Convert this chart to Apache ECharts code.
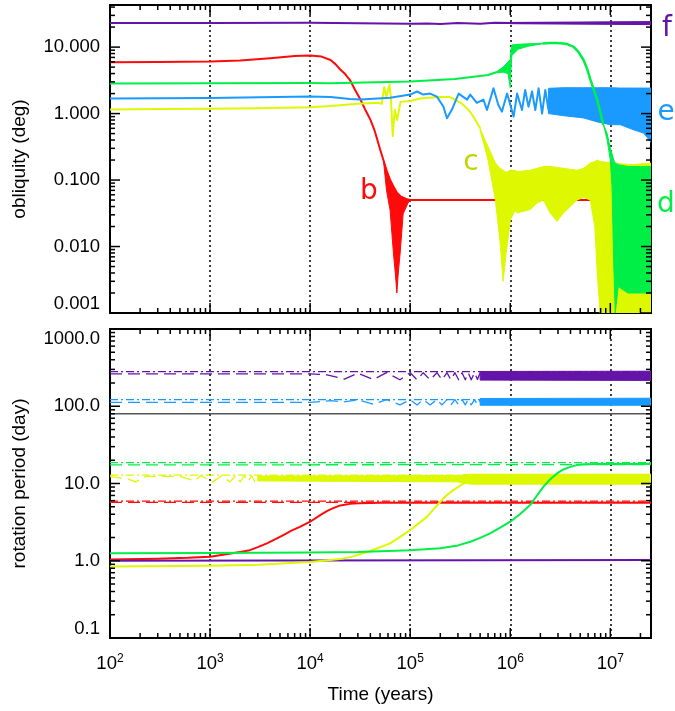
<!DOCTYPE html>
<html>
<head>
<meta charset="utf-8">
<script src="https://cdn.jsdelivr.net/npm/echarts@6/dist/echarts.min.js"></script>
<style>html,body{margin:0;padding:0;background:#fff;}#chart{width:675px;height:711px;}</style>
</head>
<body>
<div id="chart"></div>
<script>
// ---------------- DATA ----------------
const xRange = [100, 2.55e7];
const yRangeTop = [0.001, 43];
const yRangeBottom = [0.1, 1000];

// Top panel: obliquity (deg)  [time, value]
const obliqB = [[100,5.9],[300,5.95],[1000,6.05],[2000,6.3],[4000,6.8],[7000,7.35],[10000,7.5],[13000,7.2],[16000,6.4],[18000,5.5],[20000,4.6],[22500,3.9],[25000,3.2],[28000,2.3],[32000,1.6],[36000,1.1],[40000,0.81],[44000,0.56],[47000,0.40],[50000,0.29],[54000,0.20],[58000,0.14],[63000,0.10],[68000,0.08],[74000,0.064],[80000,0.057],[90000,0.052],[100000,0.05],[1e6,0.05],[2.55e7,0.05]];
// band rows: [time, upper, lower]
const obliqBBand = [[54000,0.2,0.2],[58000,0.14,0.07],[63000,0.10,0.035],[68000,0.08,0.008],[71000,0.072,0.004],[73600,0.064,0.002],[76000,0.06,0.004],[79400,0.057,0.008],[85000,0.055,0.031],[95000,0.051,0.045],[100000,0.05,0.05]];

const obliqC = [[100,1.15],[300,1.17],[1000,1.18],[3000,1.2],[10000,1.25],[16000,1.3],[30000,1.4],[48000,1.45],[52000,1.4],[55000,2.5],[58000,1.8],[62000,2.7],[64000,1.8],[67000,0.46],[70000,1.13],[74000,0.8],[80000,1.5],[100000,1.55],[130000,1.7],[200000,1.77],[250000,1.77],[280000,1.62],[320000,1.45],[355000,1.27],[400000,1.05],[447000,0.81],[500000,0.6]];
const obliqCBand = [[500000,0.6,0.55],[560000,0.40,0.3],[600000,0.32,0.2],[710000,0.18,0.05],[790000,0.15,0.012],[850000,0.14,0.003],[910000,0.13,0.008],[1e6,0.14,0.025],[1.12e6,0.14,0.035],[1.17e6,0.134,0.032],[1.58e6,0.14,0.036],[1.85e6,0.15,0.045],[2.15e6,0.16,0.05],[2.5e6,0.16,0.032],[2.93e6,0.155,0.024],[3.4e6,0.15,0.032],[3.98e6,0.145,0.04],[4.64e6,0.14,0.05],[5.4e6,0.15,0.055],[6.3e6,0.18,0.05],[7e6,0.19,0.02],[7.4e6,0.2,0.004],[7.9e6,0.19,0.001],[1.08e7,0.18,0.001],[1.58e7,0.17,0.001],[2.55e7,0.18,0.001]];

const obliqD = [[100,2.84],[1000,2.85],[10000,2.88],[16000,2.85],[100000,3.05],[280000,3.3],[600000,3.8],[750000,4.25]];
const obliqDBand = [[750000,4.4,4.1],[850000,5.0,4.2],[950000,6.0,4.0],[1e6,6.5,2.45],[1.02e6,9.5,5],[1.04e6,10.8,7.5],[1.2e6,11.0,9.3],[1.5e6,11.2,10.3],[2.1e6,11.4,11.2]];
const obliqDLate = [[2.1e6,11.3],[2.5e6,11.5],[2.9e6,11.5],[3.4e6,11.3],[3.7e6,11.1],[4.3e6,10.1],[4.8e6,8.5],[5.4e6,6.4],[5.9e6,4.6],[6.3e6,3.3],[6.9e6,2.2],[7.4e6,1.6],[8e6,1.0],[8.5e6,0.68]];
const obliqDBandLate = [[8.5e6,0.7,0.7],[9.3e6,0.5,0.4],[1e7,0.3,0.2],[1.04e7,0.25,0.08],[1.08e7,0.2,0.006],[1.12e7,0.18,0.001],[1.2e7,0.17,0.0025],[1.5e7,0.16,0.002],[2e7,0.16,0.002],[2.55e7,0.16,0.002]];

const obliqE = [[100,1.69],[1000,1.72],[10000,1.8],[16000,1.78],[25000,1.66],[32000,1.63],[63000,1.73],[100000,1.93],[117000,2.15],[135000,1.93],[158000,2.0],[185000,1.8],[215000,1.27],[233000,0.85],[260000,1.13],[305000,2.0],[370000,1.62],[398000,1.93],[464000,1.45],[540000,1.62],[585000,1.13],[680000,2.4],[760000,1.35],[825000,1.07],[930000,2.0],[1.08e6,0.9],[1.17e6,2.0],[1.31e6,1.13],[1.41e6,2.27],[1.52e6,1.27],[1.65e6,2.15],[1.78e6,1.13],[1.92e6,2.4],[2.08e6,1.0],[2.24e6,2.27],[2.41e6,1.13]];
const obliqEBand = [[2.41e6,2.4,1.0],[3.4e6,2.45,0.93],[5.4e6,2.45,0.86],[7.4e6,2.45,0.75],[1e7,2.45,0.68],[1.26e7,2.42,0.68],[1.7e7,2.42,0.57],[2.15e7,2.42,0.51],[2.55e7,2.42,0.37]];

const obliqF = [[100,23],[1000,23],[10000,23.2],[30000,22.8],[100000,22.4],[150000,22.7],[200000,22.3],[300000,23.0],[500000,22.5],[700000,23.2],[1e6,23],[2.55e7,23]];
const obliqFBand = [[1e6,23.5,22.5],[2.55e7,24.2,21.8]];

// Bottom panel: rotation period (day)
const rotGray = [[100,80],[2.55e7,80]];
const rotFDashDot = [[100,280],[2.55e7,280]];
const rotFDash = [[100,262],[10000,262],[14000,258],[22000,225],[30000,268],[43000,222],[58000,272],[79000,220],[100000,272],[117000,220],[135000,272],[158000,220],[185000,272],[208000,220],[233000,272],[255000,220],[280000,272],[305000,220],[330000,272],[355000,220],[380000,272],[407000,220],[440000,272],[470000,222],[500000,272]];
const rotFBand = [[500000,282,218],[2.55e7,284,216]];
const rotEDashDot = [[100,122],[2.55e7,122]];
const rotEDash = [[100,112],[10000,112],[16000,118],[22000,114],[30000,121],[43000,106],[58000,122],[79000,104],[100000,122],[117000,104],[135000,122],[158000,104],[185000,122],[208000,104],[233000,122],[255000,104],[280000,122],[305000,104],[330000,122],[355000,104],[380000,122],[407000,104],[440000,122],[470000,104],[500000,122]];
const rotEBand = [[500000,126,103],[2.55e7,127,103]];
const rotDDashDot = [[100,18.6],[2.55e7,18.6]];
const rotDDash = [[100,17.4],[2.55e7,17.6]];
const rotCDashDot = [[100,12.8],[2.55e7,12.8]];
const rotCDash = [[100,12.3],[150,11.5],[180,10.5],[230,12.4],[500,12.4],[700,10.8],[800,12.6],[1070,10.5],[1300,12.6],[1580,10.5],[1800,12.6],[2000,10.5],[2200,12.6],[2400,10.6],[2600,12.6],[2800,10.6],[3000,12.6]];
const rotCBand = [[3000,12.5,10.8],[300000,12.7,10.5],[400000,13.2,9.8],[2.55e7,13.2,9.8]];
const rotBDashDot = [[100,5.9],[2.55e7,5.9]];
const rotBDash = [[100,5.7],[2.55e7,5.7]];
const rotB = [[100,1.04],[300,1.06],[600,1.09],[1000,1.13],[1500,1.22],[2000,1.3],[2500,1.37],[3000,1.5],[3700,1.68],[4500,1.9],[5400,2.15],[6500,2.45],[7900,2.75],[10000,3.2],[12600,3.9],[15000,4.45],[17000,4.8],[20000,5.2],[25000,5.45],[30000,5.55],[40000,5.6],[50000,5.62],[2.55e7,5.62]];
const rotC = [[100,0.84],[1000,0.86],[3000,0.89],[10000,0.96],[20000,1.05],[27000,1.14],[34000,1.25],[45000,1.42],[63000,1.68],[80000,2.05],[100000,2.5],[120000,3.0],[147000,3.7],[170000,4.6],[200000,5.8],[230000,7.0],[270000,8.2],[320000,9.5],[370000,10.5],[430000,11.2],[500000,11.5],[800000,11.6],[2.55e7,11.6]];
const rotD = [[100,1.25],[1000,1.26],[10000,1.28],[30000,1.3],[100000,1.37],[200000,1.45],[300000,1.58],[400000,1.76],[500000,1.98],[630000,2.26],[800000,2.7],[1e6,3.2],[1.25e6,4.0],[1.58e6,5.25],[1.85e6,7.0],[2.15e6,9.1],[2.5e6,11.3],[2.93e6,13.5],[3.4e6,15.2],[3.98e6,16.4],[4.6e6,17.3],[5.4e6,17.8],[8e6,17.9],[2.55e7,17.9]];
const rotF = [[100,1.0],[2.55e7,1.02]];

const planetLabels = [
  {text:'b', x:369, y:192, color:'#ff0a0a'},
  {text:'c', x:471, y:163, color:'#c2d400'},
  {text:'d', x:666, y:205, color:'#00ef46'},
  {text:'e', x:666, y:113, color:'#1a9aff'},
  {text:'f', x:667, y:29, color:'#6414a8'}
];

// ---------------- STYLE ----------------
const RED='#ff0a0a', YEL='#ddf800', GRN='#00ef46', BLU='#1a9aff', PUR='#6414a8';
const FONT='Liberation Sans';
const DASHDOT=[8,3,2,3], LDASH=[12,6];

function logTickVals(lo, hi, major) {
  const out = [];
  for (let e = Math.floor(Math.log10(lo)); e <= Math.ceil(Math.log10(hi)); e++) {
    for (let m = 1; m <= 9; m++) {
      if ((m === 1) !== major) continue;
      const v = m * Math.pow(10, e);
      if (v >= lo * 0.999 && v <= hi * 1.001) out.push(v);
    }
  }
  return out;
}

function band(gi, rows, color, z) {
  return {
    type:'custom', xAxisIndex:gi, yAxisIndex:gi, silent:true, clip:true, z:z||2,
    encode:{x:0,y:[1,2]}, data: rows,
    renderItem(params, api) {
      if (params.dataIndexInside !== 0) return null;
      const n = params.dataInsideLength;
      const up = [], lo = [];
      for (let i = 0; i < n; i++) {
        up.push(api.coord([api.value(0,i), api.value(1,i)]));
        lo.push(api.coord([api.value(0,i), api.value(2,i)]));
      }
      return {type:'polygon', shape:{points: up.concat(lo.reverse())},
              style:{fill:color, stroke:color, lineWidth:1}};
    }
  };
}

function line(gi, data, color, width, type, z) {
  return {
    type:'line', xAxisIndex:gi, yAxisIndex:gi, data, showSymbol:false, symbol:'none',
    silent:true, z:z||2, smooth:false,
    lineStyle:{color, width, type: type || 'solid', join:'round'}
  };
}

const xAxisCommon = {
  type:'log', logBase:10, min:xRange[0], max:xRange[1],
  axisLine:{show:false}, axisTick:{show:false},
  splitLine:{show:true, lineStyle:{color:'#000', type:[2,3], width:1.5}}
};

const option = {
  animation:false,
  backgroundColor:'#fff',
  grid:[
    {left:110, right:24, top:5, height:308, show:true, borderColor:'#000', borderWidth:2},
    {left:110, right:24, top:329, height:309, show:true, borderColor:'#000', borderWidth:2}
  ],
  xAxis:[
    Object.assign({gridIndex:0, axisLabel:{show:false}}, xAxisCommon),
    Object.assign({gridIndex:1,
      name:'Time (years)', nameLocation:'middle', nameGap:47,
      nameTextStyle:{fontFamily:FONT, fontSize:19, color:'#000'},
      axisLabel:{show:true, margin:15, showMaxLabel:false, color:'#000', fontFamily:FONT, fontSize:18.5, lineHeight:22,
        formatter:(v)=> '10{sup|' + Math.round(Math.log10(v)) + '}',
        rich:{sup:{fontFamily:FONT, fontSize:12, lineHeight:12, verticalAlign:'top', color:'#000'}}}
    }, xAxisCommon)
  ],
  yAxis:[
    {gridIndex:0, type:'log', logBase:10, min:yRangeTop[0], max:yRangeTop[1],
      name:'obliquity (deg)', nameLocation:'middle', nameGap:81, nameRotate:90,
      nameTextStyle:{fontFamily:FONT, fontSize:19, color:'#000'},
      axisLine:{show:false}, axisTick:{show:false}, splitLine:{show:false},
      axisLabel:{margin:10, color:'#000', fontFamily:FONT, fontSize:18.5, showMaxLabel:false,
        verticalAlignMinLabel:'bottom',
        formatter:(v)=> Number(v).toFixed(3)}},
    {gridIndex:1, type:'log', logBase:10, min:yRangeBottom[0], max:yRangeBottom[1],
      name:'rotation period (day)', nameLocation:'middle', nameGap:81, nameRotate:90,
      nameTextStyle:{fontFamily:FONT, fontSize:19, color:'#000'},
      axisLine:{show:false}, axisTick:{show:false}, splitLine:{show:false},
      axisLabel:{margin:10, color:'#000', fontFamily:FONT, fontSize:18.5,
        verticalAlignMinLabel:'bottom', verticalAlignMaxLabel:'top',
        formatter:(v)=> Number(v).toFixed(1)}}
  ],
  series:[
    // top panel
    band(0, obliqBBand, RED, 2),
    line(0, obliqB, RED, 2, 'solid', 2),
    band(0, obliqCBand, YEL, 3),
    line(0, obliqC, YEL, 2, 'solid', 3),
    line(0, obliqE, BLU, 2, 'solid', 4),
    band(0, obliqEBand, BLU, 4),
    band(0, obliqDBand, GRN, 5),
    line(0, obliqD, GRN, 2, 'solid', 5),
    line(0, obliqDLate, GRN, 2.5, 'solid', 5),
    band(0, obliqDBandLate, GRN, 5),
    band(0, obliqFBand, PUR, 6),
    line(0, obliqF, PUR, 2, 'solid', 6),
    // bottom panel
    line(1, rotGray, '#555', 1.5, 'solid', 2),
    line(1, rotFDashDot, PUR, 1.3, DASHDOT, 2),
    line(1, rotFDash, PUR, 1.3, LDASH, 2),
    band(1, rotFBand, PUR, 2),
    line(1, rotEDashDot, BLU, 1.3, DASHDOT, 2),
    line(1, rotEDash, BLU, 1.3, LDASH, 2),
    band(1, rotEBand, BLU, 2),
    line(1, rotDDashDot, GRN, 1.3, DASHDOT, 2),
    line(1, rotDDash, GRN, 1.3, LDASH, 2),
    line(1, rotCDashDot, YEL, 1.3, DASHDOT, 2),
    line(1, rotCDash, YEL, 1.3, LDASH, 2),
    band(1, rotCBand, YEL, 2),
    line(1, rotBDashDot, RED, 1.3, DASHDOT, 2),
    line(1, rotBDash, RED, 1.3, LDASH, 2),
    line(1, rotB, RED, 2, 'solid', 3),
    line(1, rotF, PUR, 2, 'solid', 3),
    line(1, rotC, YEL, 2, 'solid', 3),
    line(1, rotD, GRN, 2, 'solid', 4)
  ]
};

const chart = echarts.init(document.getElementById('chart'), null, {renderer:'canvas'});
chart.setOption(option);

// planet letters + inward tick marks on all four sides (positions from the axes' scales)
const gfx = planetLabels.map(l => ({type:'text', x:l.x, y:l.y, silent:true, z:50,
  style:{text:l.text, fill:l.color, fontSize:28, fontFamily:'DejaVu Sans', align:'center', verticalAlign:'middle'}}));

function tickRect(x, y, w, h) {
  return {type:'rect', silent:true, z:60, shape:{x, y, width:w, height:h}, style:{fill:'#000'}};
}
function addTicks(gi, yRange) {
  const f = {gridIndex: gi};
  const p0 = chart.convertToPixel(f, [xRange[0], yRange[0]]);
  const p1 = chart.convertToPixel(f, [xRange[1], yRange[1]]);
  if (!p0 || !p1) return;
  const L = p0[0], B = p0[1], R = p1[0], T = p1[1];
  [true, false].forEach(major => {
    const len = major ? 10 : 5;
    logTickVals(xRange[0], xRange[1], major).forEach(v => {
      const x = chart.convertToPixel(f, [v, yRange[0]])[0];
      gfx.push(tickRect(x - 0.75, B - len, 1.5, len));
      gfx.push(tickRect(x - 0.75, T, 1.5, len));
    });
    logTickVals(yRange[0], yRange[1], major).forEach(v => {
      const y = chart.convertToPixel(f, [xRange[0], v])[1];
      gfx.push(tickRect(L, y - 0.75, len, 1.5));
      gfx.push(tickRect(R - len, y - 0.75, len, 1.5));
    });
  });
}
try { addTicks(0, yRangeTop); addTicks(1, yRangeBottom); } catch (e) {}
chart.setOption({graphic: gfx});
</script>
</body>
</html>
